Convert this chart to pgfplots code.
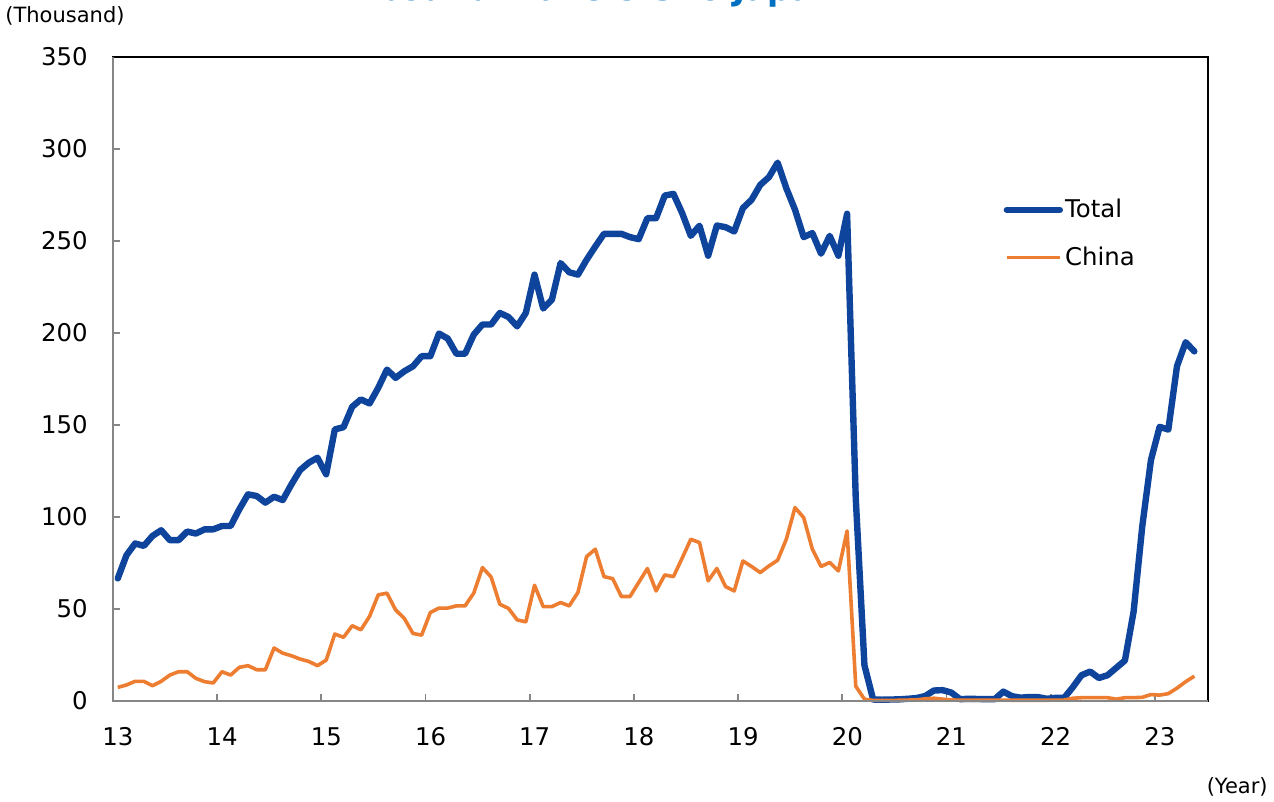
\documentclass[border=0pt]{standalone}
\usepackage{fontspec}
\setmainfont{DejaVu Sans}
\usepackage{pgfplots}
\usepackage{pgfplotstable}
\pgfplotsset{compat=1.18}

\definecolor{totalblue}{RGB}{14,68,155}
\definecolor{chinaorange}{RGB}{237,125,49}
\definecolor{titleblue}{RGB}{0,112,192}
\definecolor{axisgray}{RGB}{134,134,134}

% monthly values, Jan 2013 - May 2023
\pgfplotstableread{
total china
66.6 7.4
79.2 8.7
85.6 10.7
84.3 10.7
89.7 8.3
92.8 10.7
87.4 14.1
87.4 15.9
92.1 15.9
91.0 12.3
93.3 10.5
93.3 9.8
95.1 15.9
95.1 14.1
104.2 18.3
112.3 19.2
111.4 17.0
107.8 17.0
111.0 28.8
109.2 26.0
117.7 24.6
125.5 22.8
129.5 21.5
132.2 19.2
123.2 22.2
147.6 36.4
148.8 34.6
159.9 40.9
163.9 38.7
161.7 46.0
170.2 57.7
180.1 58.6
175.6 49.5
179.2 44.9
181.9 36.7
187.4 35.8
187.4 48.1
199.7 50.5
197.0 50.5
188.7 51.7
188.7 51.7
199.1 58.6
204.6 72.5
204.6 67.4
210.9 52.6
208.7 50.3
203.6 44.1
210.9 43.0
231.7 62.9
213.3 51.3
218.1 51.3
238.0 53.5
233.0 51.7
231.7 59.0
239.8 78.5
247.0 82.5
253.9 67.6
253.9 66.5
253.9 56.8
252.1 56.8
251.0 64.4
262.4 72.0
262.4 59.8
274.7 68.5
275.6 67.6
265.2 77.6
252.8 87.9
258.3 86.1
242.0 65.3
258.4 72.0
257.5 62.2
255.2 59.8
267.9 76.1
272.4 73.1
280.5 69.8
284.7 73.4
292.6 76.5
278.7 87.9
267.0 105.1
252.1 99.7
254.3 82.5
243.1 73.1
252.8 75.3
242.0 70.7
264.8 92.4
110.0 8.0
19.4 1.0
0.8 0.3
0.7 0.3
0.8 0.3
0.9 0.4
1.2 0.5
1.6 0.6
2.7 1.2
5.7 1.5
5.9 1.0
4.6 0.6
1.0 0.4
1.2 0.4
1.1 0.4
1.0 0.4
1.0 0.4
5.1 0.5
2.6 0.4
1.8 0.4
2.2 0.4
2.1 0.4
1.2 0.4
1.7 0.5
1.7 0.5
7.5 1.5
14.0 1.8
16.0 1.8
12.5 1.8
14.0 1.8
18.0 1.0
22.0 1.8
48.5 1.8
95.0 2.0
131.0 3.5
149.0 3.2
147.5 4.0
182.0 7.0
195.0 10.5
190.0 13.5
}\traveldata

\begin{document}
\begin{tikzpicture}
\path[use as bounding box] (0,0) rectangle (637bp,401bp);
\begin{axis}[
    name=ax,
    at={(56.5bp,50.5bp)}, anchor=south west,
    scale only axis, width=547.5bp, height=322bp,
    xmin=13, xmax=23.51, ymin=0, ymax=350,
    xtick={13,...,23}, ytick={0,50,...,350},
    tick pos=left, tick align=inside, major tick length=3.5bp,
    tick style={axisgray, line width=0.9bp},
    axis line style={black, line width=0.75bp},
    /pgf/number format/assume math mode=true,
    ticklabel style={font=\fontsize{12.2bp}{14bp}\selectfont, inner sep=0pt},
    yticklabel style={xshift=-12.5bp},
    xticklabel style={yshift=-13bp, xshift=2.5bp},
    clip=false,
    legend style={at={(axis description cs:0.813,0.783)}, anchor=north west,
        draw=none, fill=none, inner sep=0pt, row sep=11bp,
        font=\fontsize{12.2bp}{14bp}\selectfont, nodes={inner sep=1bp}},
    legend cell align=left,
    legend image code/.code={\draw[#1] (0bp,0bp) -- (26.5bp,0bp);},
]
\addplot[totalblue, line width=3.2bp, line join=round, line cap=round]
    table[x expr={13+(\coordindex+0.55)/12}, y=total]{\traveldata};
\addlegendentry{Total}
\addplot[chinaorange, line width=1.8bp, line join=round]
    table[x expr={13+(\coordindex+0.55)/12}, y=china]{\traveldata};
\addlegendentry{China}
\end{axis}
\draw[axisgray, line width=1.2bp] (ax.north west) -- (ax.south west) -- (ax.south east);
\node[anchor=west, inner sep=0pt, font=\fontsize{10.5bp}{12bp}\selectfont] at (2.5bp,393bp) {(Thousand)};
\node[anchor=east, inner sep=0pt, font=\fontsize{10.5bp}{12bp}\selectfont] at (634bp,7.5bp) {(Year)};
\node[anchor=base, inner sep=0pt, text=titleblue, font=\bfseries\fontsize{16.3bp}{18bp}\selectfont] at (294.5bp,400.6bp) {Inbound Travelers to Japan};
\end{tikzpicture}
\end{document}
